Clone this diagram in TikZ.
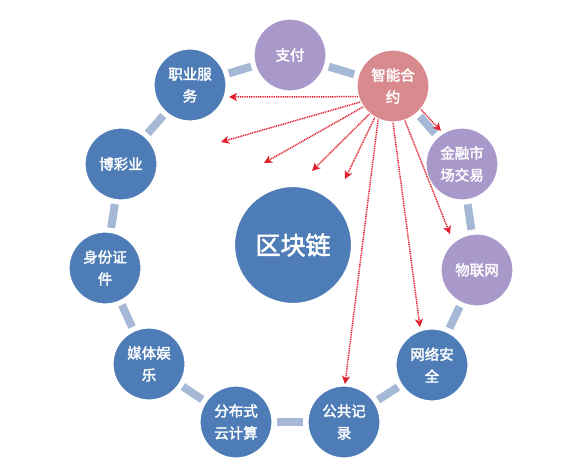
\documentclass[tikz,border=0pt]{standalone}
\usepackage{fontspec}
\newfontfamily\cjk{Noto Sans CJK SC}[AutoFakeBold=2.2]
\usetikzlibrary{arrows.meta}
\definecolor{nblue}{HTML}{4E7CB6}
\definecolor{npurple}{HTML}{A999CA}
\definecolor{npink}{HTML}{D98A8E}
\definecolor{ringc}{HTML}{A5B9D6}
\definecolor{redc}{HTML}{E0202E}
\begin{document}
\begin{tikzpicture}[x=1pt,y=-1pt,
  circ/.style={circle, inner sep=0pt, minimum size=72pt, draw=white, line width=1.2pt,
    text=white, font=\cjk\bfseries\fontsize{14.5}{22}\selectfont, align=center},
  bnode/.style={circ, fill=nblue},
  pnode/.style={circ, fill=npurple},
  rnode/.style={circ, fill=npink},
  bignode/.style={circ, fill=nblue, minimum size=117pt, font=\cjk\bfseries\fontsize{25}{30}\selectfont},
  ringlink/.style={draw=ringc, line width=8pt, shorten >=4pt, shorten <=4pt},
  smartarrow/.style={draw=redc, line width=1.5pt, dash pattern=on 1pt off 0.8pt, -{Stealth[length=8pt,width=8pt,inset=2pt]}}]
\useasboundingbox (0,0) rectangle (585,468);
% nodes
\node[bnode] (zy) at (190,85) {职业服\\务};
\node[pnode] (zf) at (290,55) {支付};
\node[rnode] (zn) at (393,86) {智能合\\约};
\node[pnode] (jr) at (462,164) {金融市\\场交易};
\node[pnode] (wl) at (477,270) {物联网};
\node[bnode] (aq) at (432,365) {网络安\\全};
\node[bnode] (gg) at (344,422) {公共记\\录};
\node[bnode] (fb) at (236,422) {分布式\\云计算};
\node[bnode] (mt) at (149,364) {媒体娱\\乐};
\node[bnode] (sf) at (105,268) {身份证\\件};
\node[bnode] (bc) at (121,164) {博彩业};
\node[bignode] (qk) at (293,245) {区块链};
% ring links
\foreach \a/\b in {zy/zf, zf/zn, zn/jr, jr/wl, wl/aq, aq/gg, gg/fb, fb/mt, mt/sf, sf/bc, bc/zy}
  \draw[ringlink] (\a) -- (\b);
% free ends of arrows
\coordinate (t1) at (229,97);
\coordinate (t2) at (221,142);
\coordinate (t3) at (264,163);
\coordinate (t4) at (312,171);
\coordinate (t5) at (345,179);
\coordinate (t6) at (345,384);
\coordinate (t7) at (420,327);
\coordinate (t8) at (450,234);
\coordinate (t9) at (441,131);
% arrows
\draw[smartarrow] (zn.197) -- (t1);
\draw[smartarrow] (zn.206) -- (t2);
\draw[smartarrow] (zn.215) -- (t3);
\draw[smartarrow] (zn.230) -- (t4);
\draw[smartarrow] (zn.240) -- (t5);
\draw[smartarrow] (zn.246) -- (t6);
\draw[smartarrow] (zn.270) -- (t7);
\draw[smartarrow] (zn.289) -- (t8);
\draw[smartarrow] (zn.320) -- (t9);
\end{tikzpicture}
\end{document}
